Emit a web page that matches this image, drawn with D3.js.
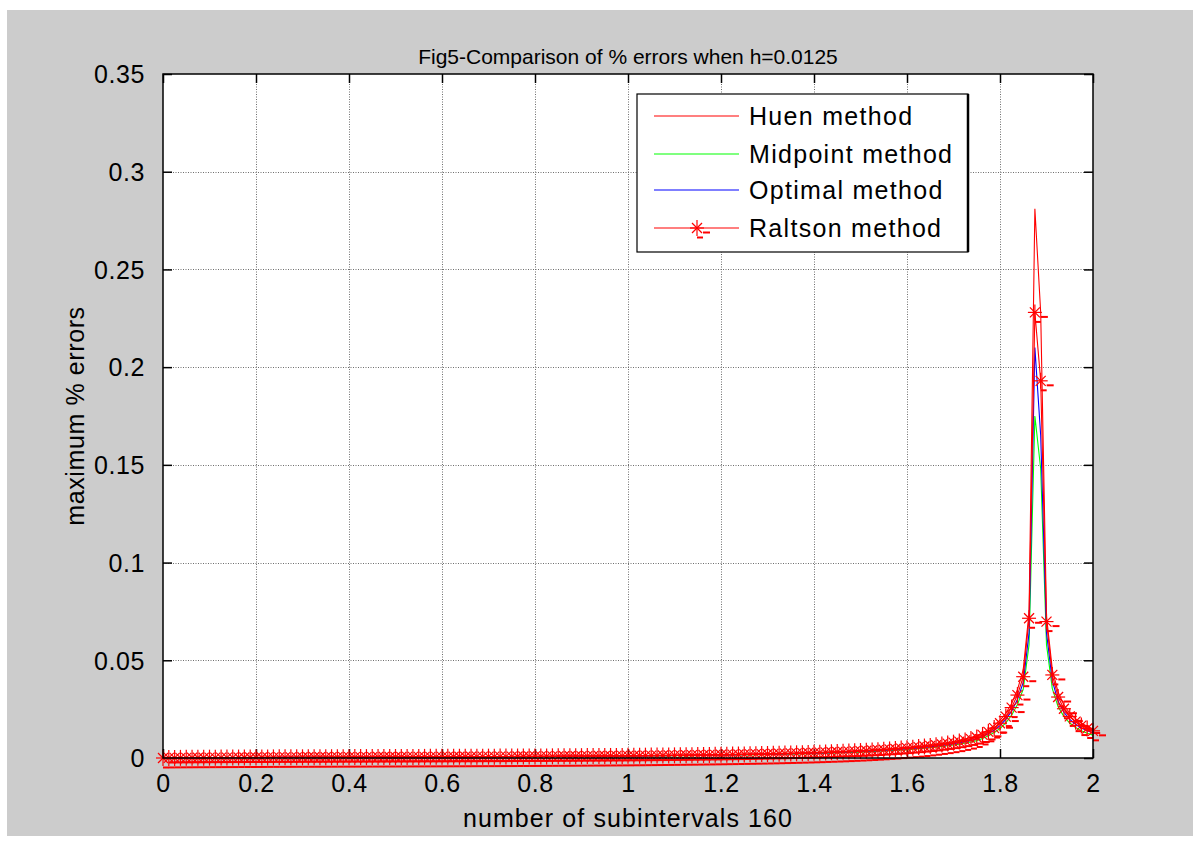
<!DOCTYPE html>
<html>
<head>
<meta charset="utf-8">
<script src="https://cdn.jsdelivr.net/npm/d3@7"></script>
<style>
  html, body { margin: 0; padding: 0; background: #ffffff; }
  svg { display: block; font-family: "Liberation Sans", Arial, sans-serif; }
</style>
</head>
<body>
<svg id="fig" width="1200" height="844"></svg>
<script>
// Step size and number of subintervals of the scheme
const h = 0.0125;
const nSub = 160;

const chartTitle = "Fig5-Comparison of % errors when h=0.0125";
const xLabel = "number of subintervals 160";
const yLabel = "maximum % errors";

const xTicks = [0, 0.2, 0.4, 0.6, 0.8, 1, 1.2, 1.4, 1.6, 1.8, 2];
const xTickLabels = ["0", "0.2", "0.4", "0.6", "0.8", "1", "1.2", "1.4", "1.6", "1.8", "2"];
const yTicks = [0, 0.05, 0.1, 0.15, 0.2, 0.25, 0.3, 0.35];
const yTickLabels = ["0", "0.05", "0.1", "0.15", "0.2", "0.25", "0.3", "0.35"];

const seriesNames = ["Huen method", "Midpoint method", "Optimal method", "Raltson method"];
const seriesColors = ["#ff0000", "#00ff00", "#0000ff", "#ff0000"];

// percent errors at each of the 161 grid points
const huen = [
  0, 0.00003, 0.00006, 0.00009, 0.00011, 0.00013, 0.00015, 0.00016, 0.00018, 0.00019,
  0.00022, 0.00023, 0.00024, 0.00026, 0.00027, 0.00028, 0.00029, 0.0003, 0.00032, 0.00033,
  0.00035, 0.00036, 0.00037, 0.00038, 0.00039, 0.0004, 0.00041, 0.00042, 0.00043, 0.00044,
  0.00045, 0.00046, 0.00048, 0.00049, 0.0005, 0.00051, 0.00052, 0.00053, 0.00054, 0.00055,
  0.00056, 0.00057, 0.00058, 0.00059, 0.0006, 0.00062, 0.00063, 0.00064, 0.00065, 0.00066,
  0.00067, 0.00068, 0.00069, 0.00071, 0.00072, 0.00073, 0.00075, 0.00076, 0.00078, 0.00079,
  0.0008, 0.00082, 0.00083, 0.00085, 0.00086, 0.00089, 0.0009, 0.00092, 0.00094, 0.00095,
  0.00097, 0.00099, 0.00102, 0.00104, 0.00106, 0.00108, 0.0011, 0.00112, 0.00114, 0.00117,
  0.00119, 0.00122, 0.00125, 0.00129, 0.00132, 0.00135, 0.00138, 0.00141, 0.00146, 0.00149,
  0.00153, 0.00157, 0.00161, 0.00165, 0.0017, 0.00174, 0.00178, 0.00184, 0.00188, 0.00193,
  0.00199, 0.00204, 0.00211, 0.00216, 0.00222, 0.00229, 0.00237, 0.00244, 0.00252, 0.00259,
  0.00268, 0.00276, 0.00286, 0.00296, 0.00307, 0.00318, 0.00329, 0.00341, 0.00354, 0.00368,
  0.00383, 0.004, 0.00416, 0.00434, 0.00454, 0.00474, 0.00496, 0.0052, 0.00545, 0.00572,
  0.00602, 0.00634, 0.00669, 0.00706, 0.00748, 0.00795, 0.00847, 0.00905, 0.00971, 0.01045,
  0.0114, 0.0128, 0.0145, 0.0166, 0.0193, 0.0229, 0.0279, 0.0349, 0.0452,
  0.0745, 0.281, 0.228, 0.0725, 0.0452, 0.0336, 0.0271, 0.0229, 0.02, 0.0178, 0.0162, 0.0149
];

const midpoint = [
  0, 0.00003, 0.00005, 0.00007, 0.00009, 0.0001, 0.00012, 0.00013, 0.00014, 0.00015,
  0.00017, 0.00018, 0.00019, 0.0002, 0.00021, 0.00022, 0.00023, 0.00024, 0.00026, 0.00026,
  0.00027, 0.00028, 0.00029, 0.0003, 0.00031, 0.00031, 0.00032, 0.00033, 0.00034, 0.00035,
  0.00036, 0.00037, 0.00037, 0.00038, 0.00039, 0.0004, 0.00041, 0.00042, 0.00043, 0.00043,
  0.00044, 0.00045, 0.00046, 0.00047, 0.00048, 0.00048, 0.00049, 0.0005, 0.00051, 0.00052,
  0.00053, 0.00054, 0.00054, 0.00056, 0.00057, 0.00058, 0.00059, 0.0006, 0.00061, 0.00062,
  0.00063, 0.00065, 0.00065, 0.00067, 0.00068, 0.0007, 0.00071, 0.00072, 0.00074, 0.00075,
  0.00077, 0.00078, 0.0008, 0.00082, 0.00083, 0.00085, 0.00087, 0.00088, 0.0009, 0.00092,
  0.00094, 0.00096, 0.00099, 0.00101, 0.00104, 0.00106, 0.00109, 0.00111, 0.00115, 0.00117,
  0.00121, 0.00123, 0.00127, 0.0013, 0.00133, 0.00137, 0.0014, 0.00145, 0.00148, 0.00152,
  0.00156, 0.00161, 0.00166, 0.0017, 0.00175, 0.0018, 0.00186, 0.00192, 0.00198, 0.00204,
  0.00211, 0.00218, 0.00225, 0.00233, 0.00241, 0.0025, 0.00259, 0.00269, 0.00279, 0.0029,
  0.00302, 0.00315, 0.00327, 0.00342, 0.00357, 0.00373, 0.0039, 0.00409, 0.00429, 0.00451,
  0.00473, 0.00499, 0.00526, 0.00556, 0.00589, 0.00626, 0.00666, 0.00712, 0.00764, 0.00823,
  0.0089, 0.01, 0.0114, 0.013, 0.0151, 0.018, 0.0219, 0.0274, 0.0352,
  0.058, 0.175, 0.148, 0.058, 0.0355, 0.0262, 0.0212, 0.0179, 0.0156, 0.0139, 0.0127, 0.0117
];

const optimal = [
  0, 0.00003, 0.00006, 0.00007, 0.00009, 0.00011, 0.00013, 0.00014, 0.00016, 0.00017,
  0.00019, 0.0002, 0.0002, 0.00022, 0.00023, 0.00024, 0.00025, 0.00026, 0.00028, 0.00029,
  0.0003, 0.00031, 0.00032, 0.00033, 0.00033, 0.00034, 0.00035, 0.00036, 0.00037, 0.00038,
  0.00039, 0.0004, 0.00041, 0.00042, 0.00043, 0.00044, 0.00045, 0.00046, 0.00047, 0.00047,
  0.00048, 0.00049, 0.0005, 0.00051, 0.00052, 0.00053, 0.00054, 0.00055, 0.00056, 0.00057,
  0.00058, 0.00059, 0.0006, 0.00061, 0.00062, 0.00063, 0.00064, 0.00065, 0.00067, 0.00068,
  0.00069, 0.00071, 0.00072, 0.00073, 0.00074, 0.00076, 0.00077, 0.00079, 0.00081, 0.00082,
  0.00084, 0.00086, 0.00087, 0.00089, 0.00091, 0.00093, 0.00095, 0.00097, 0.00099, 0.001,
  0.00102, 0.00105, 0.00108, 0.00111, 0.00113, 0.00116, 0.00119, 0.00122, 0.00126, 0.00128,
  0.00132, 0.00135, 0.00139, 0.00142, 0.00146, 0.0015, 0.00153, 0.00158, 0.00162, 0.00166,
  0.00171, 0.00176, 0.00181, 0.00186, 0.00192, 0.00197, 0.00204, 0.0021, 0.00217, 0.00223,
  0.00231, 0.00238, 0.00246, 0.00255, 0.00264, 0.00273, 0.00284, 0.00294, 0.00305, 0.00317,
  0.0033, 0.00344, 0.00358, 0.00374, 0.00391, 0.00408, 0.00427, 0.00447, 0.0047, 0.00493,
  0.00518, 0.00546, 0.00576, 0.00608, 0.00644, 0.00684, 0.00729, 0.00779, 0.00836, 0.009,
  0.0098, 0.011, 0.0125, 0.0142, 0.0166, 0.0197, 0.024, 0.0299, 0.0387,
  0.064, 0.21, 0.165, 0.064, 0.0395, 0.029, 0.0234, 0.0198, 0.0173, 0.0154, 0.014, 0.0129
];

const raltson = [
  0, 0.00003, 0.00006, 0.00008, 0.0001, 0.00012, 0.00014, 0.00015, 0.00017, 0.00018,
  0.0002, 0.00021, 0.00022, 0.00024, 0.00025, 0.00026, 0.00027, 0.00028, 0.0003, 0.00031,
  0.00032, 0.00033, 0.00034, 0.00035, 0.00036, 0.00037, 0.00038, 0.00039, 0.0004, 0.00041,
  0.00042, 0.00043, 0.00044, 0.00045, 0.00046, 0.00047, 0.00048, 0.00049, 0.0005, 0.00051,
  0.00052, 0.00053, 0.00054, 0.00055, 0.00056, 0.00057, 0.00058, 0.00059, 0.0006, 0.00061,
  0.00062, 0.00063, 0.00064, 0.00066, 0.00067, 0.00068, 0.00069, 0.0007, 0.00072, 0.00073,
  0.00074, 0.00076, 0.00077, 0.00079, 0.0008, 0.00082, 0.00083, 0.00085, 0.00087, 0.00088,
  0.0009, 0.00092, 0.00094, 0.00096, 0.00098, 0.001, 0.00102, 0.00104, 0.00106, 0.00108,
  0.0011, 0.00113, 0.00116, 0.00119, 0.00122, 0.00125, 0.00128, 0.00131, 0.00135, 0.00138,
  0.00142, 0.00145, 0.00149, 0.00153, 0.00157, 0.00161, 0.00165, 0.0017, 0.00174, 0.00179,
  0.00184, 0.00189, 0.00195, 0.002, 0.00206, 0.00212, 0.00219, 0.00226, 0.00233, 0.0024,
  0.00248, 0.00256, 0.00265, 0.00274, 0.00284, 0.00294, 0.00305, 0.00316, 0.00328, 0.00341,
  0.00355, 0.0037, 0.00385, 0.00402, 0.0042, 0.00439, 0.00459, 0.00481, 0.00505, 0.0053,
  0.00557, 0.00587, 0.00619, 0.00654, 0.00693, 0.00736, 0.00784, 0.00838, 0.00899, 0.00968,
  0.0105, 0.0118, 0.0134, 0.0153, 0.0178, 0.0212, 0.0258, 0.0322, 0.0416,
  0.0715, 0.228, 0.193, 0.0698, 0.0425, 0.0312, 0.0252, 0.0213, 0.0186, 0.0166, 0.0151, 0.0139
];

const xs = d3.range(nSub + 1).map(i => +(i * h).toFixed(4));
const allSeries = [huen, midpoint, optimal, raltson];

// ---------- layout ----------
const svg = d3.select("#fig");
const W = 1200, H = 844;
const plot = { left: 163, top: 74, right: 1093, bottom: 758 };
const font = "'Liberation Sans', Arial, sans-serif";

svg.append("rect").attr("x", 0).attr("y", 0).attr("width", W).attr("height", H).attr("fill", "#ffffff");
svg.append("rect").attr("x", 7).attr("y", 10).attr("width", 1186).attr("height", 826).attr("fill", "#cccccc");
svg.append("rect")
  .attr("x", plot.left).attr("y", plot.top)
  .attr("width", plot.right - plot.left).attr("height", plot.bottom - plot.top)
  .attr("fill", "#ffffff");

const x = d3.scaleLinear().domain([0, 2]).range([plot.left, plot.right]);
const y = d3.scaleLinear().domain([0, 0.35]).range([plot.bottom, plot.top]);

// dotted grid
const grid = svg.append("g").attr("stroke", "#6e6e6e").attr("stroke-width", 1)
  .attr("stroke-dasharray", "1,1.5").attr("fill", "none");
xTicks.slice(1, -1).forEach(t => {
  grid.append("line").attr("x1", Math.round(x(t)) + 0.5).attr("x2", Math.round(x(t)) + 0.5)
    .attr("y1", plot.top).attr("y2", plot.bottom);
});
yTicks.slice(1, -1).forEach(t => {
  grid.append("line").attr("y1", Math.round(y(t)) + 0.5).attr("y2", Math.round(y(t)) + 0.5)
    .attr("x1", plot.left).attr("x2", plot.right);
});

// axes with inward ticks on all four sides
const tickLen = 9;
const fmtX = (d, i) => xTickLabels[i];
const fmtY = (d, i) => yTickLabels[i];

const axB = svg.append("g").attr("transform", `translate(0,${plot.bottom})`)
  .call(d3.axisBottom(x).tickValues(xTicks).tickFormat(fmtX).tickSizeInner(-tickLen).tickSizeOuter(0).tickPadding(16));
const axT = svg.append("g").attr("transform", `translate(0,${plot.top})`)
  .call(d3.axisTop(x).tickValues(xTicks).tickFormat("").tickSizeInner(-tickLen).tickSizeOuter(0));
const axL = svg.append("g").attr("transform", `translate(${plot.left},0)`)
  .call(d3.axisLeft(y).tickValues(yTicks).tickFormat(fmtY).tickSizeInner(-tickLen).tickSizeOuter(0).tickPadding(18));
const axR = svg.append("g").attr("transform", `translate(${plot.right},0)`)
  .call(d3.axisRight(y).tickValues(yTicks).tickFormat("").tickSizeInner(-tickLen).tickSizeOuter(0));

[axB, axT, axL, axR].forEach(g => {
  g.select(".domain").remove();
  g.selectAll(".tick line").attr("stroke", "#000").attr("stroke-width", 1.5);
  g.selectAll("text").attr("font-size", 25).attr("fill", "#000")
    .attr("letter-spacing", "0.6px").attr("font-family", font);
});
axL.selectAll("text").attr("dy", "0.35em");

// series
const line = d3.line().x((d, i) => x(xs[i])).y(d => y(d));
const curves = svg.append("g").attr("fill", "none").attr("stroke-width", 1.1);
allSeries.forEach((s, k) => {
  curves.append("path").datum(s).attr("d", line).attr("stroke", seriesColors[k]);
});

// asterisk markers with their small trailing dashes
function starMarker(g, cx, cy) {
  const m = g.append("g").attr("transform", `translate(${cx},${cy})`)
    .attr("stroke", "#ff0000").attr("stroke-width", 1.2).attr("fill", "none");
  m.append("line").attr("x1", 0).attr("y1", -8).attr("x2", 0).attr("y2", 8);
  m.append("line").attr("x1", -7).attr("y1", 0).attr("x2", 7).attr("y2", 0);
  m.append("line").attr("x1", -5).attr("y1", -5).attr("x2", 5).attr("y2", 5);
  m.append("line").attr("x1", -5).attr("y1", 5).attr("x2", 5).attr("y2", -5);
  m.append("line").attr("x1", 6).attr("y1", 4.5).attr("x2", 13).attr("y2", 4.5).attr("stroke-width", 2);
  m.append("line").attr("x1", 0).attr("y1", 9.5).attr("x2", 6).attr("y2", 9.5).attr("stroke-width", 2);
}
const markers = svg.append("g");
raltson.forEach((v, i) => starMarker(markers, x(xs[i]), y(v)));

// axes box
svg.append("rect")
  .attr("x", plot.left).attr("y", plot.top)
  .attr("width", plot.right - plot.left).attr("height", plot.bottom - plot.top)
  .attr("fill", "none").attr("stroke", "#000").attr("stroke-width", 1.5);

// legend
const lg = { x: 637, y: 94, w: 331, h: 158 };
svg.append("rect").attr("x", lg.x).attr("y", lg.y).attr("width", lg.w).attr("height", lg.h)
  .attr("fill", "#ffffff").attr("stroke", "#000").attr("stroke-width", 1.2);
svg.append("line").attr("x1", lg.x + lg.w).attr("x2", lg.x + lg.w)
  .attr("y1", lg.y).attr("y2", lg.y + lg.h).attr("stroke", "#000").attr("stroke-width", 2.5);
const rowY = [116, 154, 190, 228];
seriesNames.forEach((name, k) => {
  svg.append("line").attr("x1", 654).attr("x2", 739).attr("y1", rowY[k]).attr("y2", rowY[k])
    .attr("stroke", seriesColors[k]).attr("stroke-width", 1.1);
  svg.append("text").attr("x", 749).attr("y", rowY[k]).attr("dy", "0.35em")
    .attr("font-size", 25).attr("letter-spacing", "1.3px").attr("fill", "#000").text(name);
});
starMarker(svg, 697, rowY[3]);

// titles
svg.append("text").attr("x", (plot.left + plot.right) / 2).attr("y", 64)
  .attr("text-anchor", "middle").attr("font-size", 21).attr("fill", "#000").text(chartTitle);
svg.append("text").attr("x", (plot.left + plot.right) / 2).attr("y", 827)
  .attr("text-anchor", "middle").attr("font-size", 25).attr("letter-spacing", "1.1px")
  .attr("fill", "#000").text(xLabel);
svg.append("text").attr("transform", `translate(84,${(plot.top + plot.bottom) / 2}) rotate(-90)`)
  .attr("text-anchor", "middle").attr("font-size", 25).attr("letter-spacing", "0.6px")
  .attr("fill", "#000").text(yLabel);
</script>
</body>
</html>
